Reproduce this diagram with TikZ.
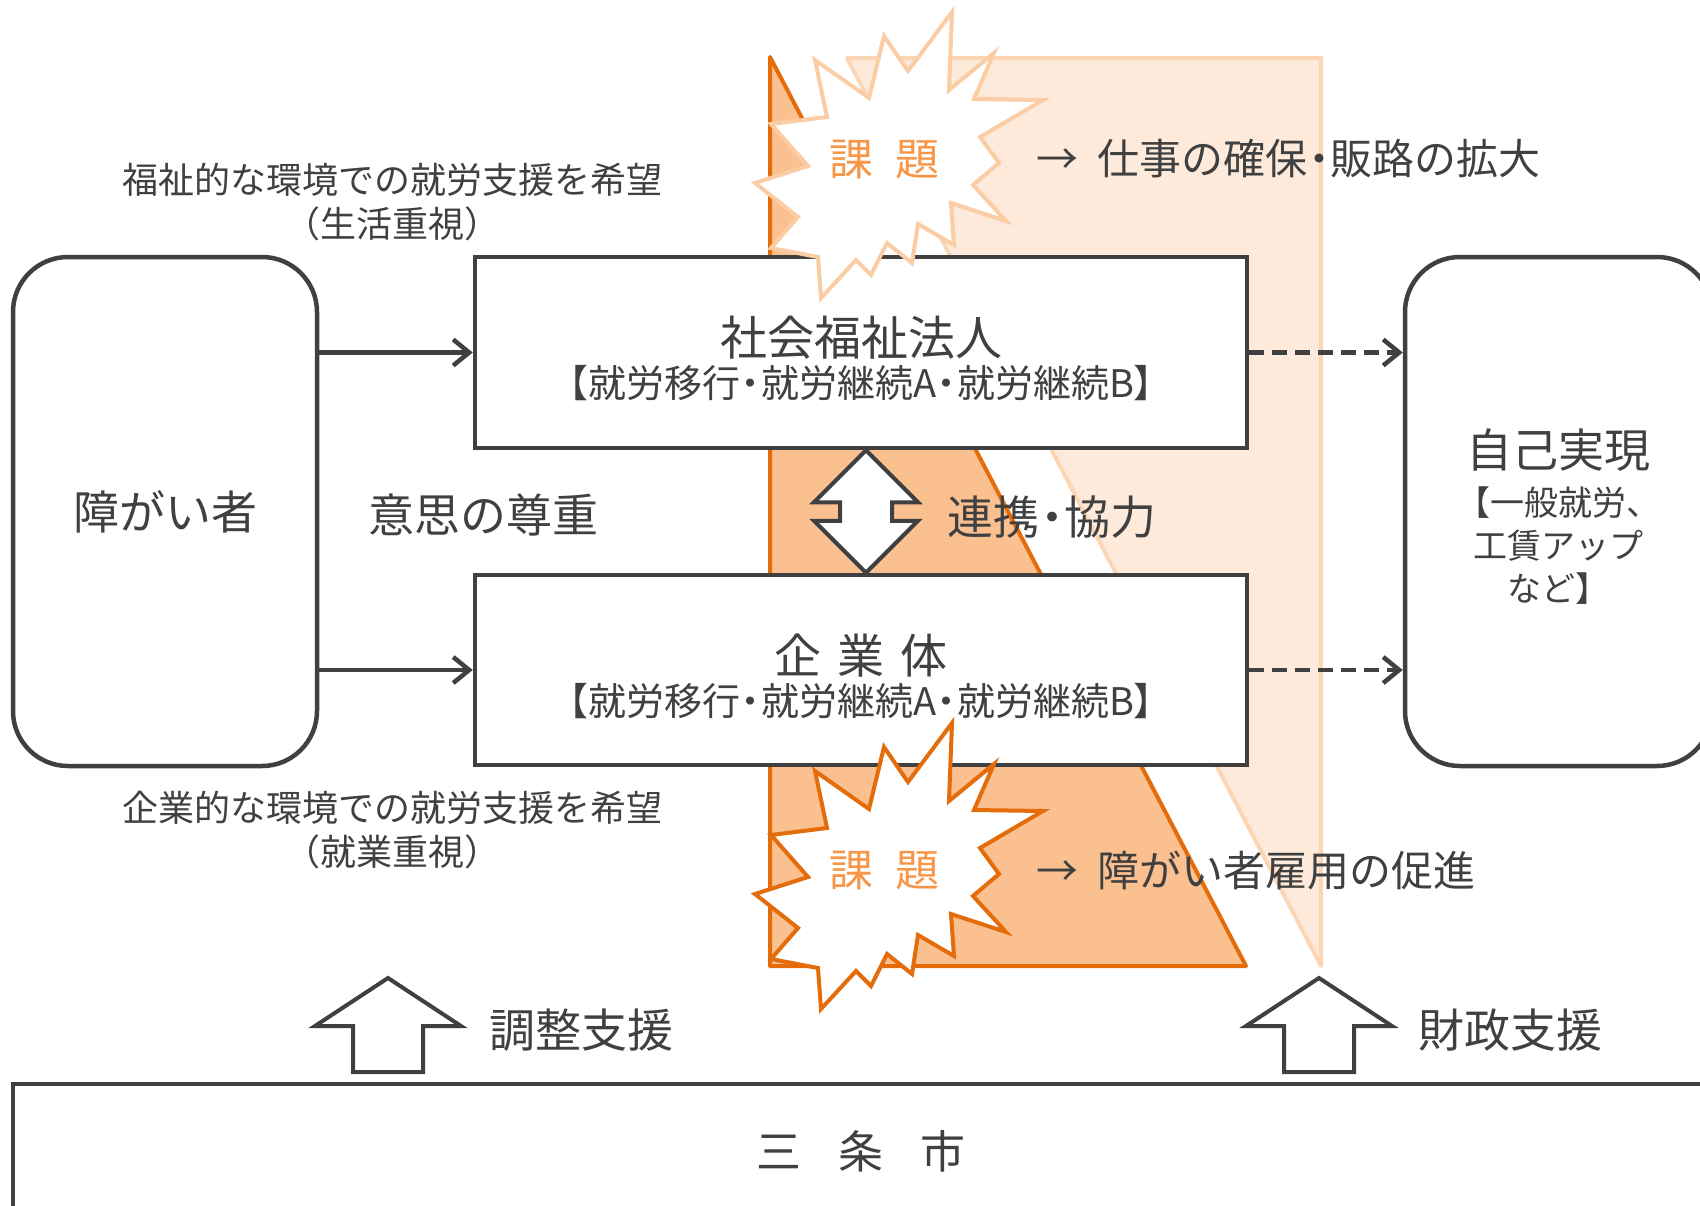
\documentclass[tikz,border=0pt]{standalone}
\usepackage{fontspec}
\setmainfont{Noto Sans CJK JP}
\usepackage{tikz}
\usetikzlibrary{arrows.meta}
\usetikzlibrary{calc}

\definecolor{txtgray}{HTML}{404040}
\definecolor{darkorange}{HTML}{E46C0A}
\definecolor{darkfill}{HTML}{FAC08F}
\definecolor{lightfill}{HTML}{FDEADA}
\definecolor{lightline}{HTML}{FCD5B4}
\definecolor{lightstar}{HTML}{FBCDA5}
\definecolor{kadaiorange}{HTML}{F79646}

\newcommand{\nakadot}{\makebox[0.55em]{・}}
\newcommand{\lbrk}{\makebox[0.55em][r]{【}}
\newcommand{\rbrk}{\makebox[0.55em][l]{】}}

\begin{document}
\begin{tikzpicture}[x=1pt, y=-1pt,
  box/.style={draw=txtgray, line width=4.5pt, fill=white, inner sep=0pt},
  roundbox/.style={box, rounded corners=55pt},
  lbl/.style={text=txtgray, align=center, inner sep=0pt},
  kadai/.style={text=kadaiorange, inner sep=0pt, font=\fontsize{44}{44}\selectfont},
  tri/.style={line width=4pt, line join=round},
  burst/.style={fill=white, line width=4pt, line join=miter},
  link/.style={draw=txtgray, line width=4.5pt, -{Straight Barb[length=16pt,width=26pt]}},
  dashline/.style={dash pattern=on 15pt off 8pt},
  blockarrow/.style={draw=txtgray, line width=4pt, fill=white, line join=miter}]

\useasboundingbox (0,0) rectangle (1700,1205);

%background triangles
 \draw[tri, fill=lightfill, draw=lightline] (847,58) -- (1321,58) -- (1321,966) -- cycle;
 \draw[tri, fill=darkfill, draw=darkorange] (770,57) -- (1246,966) -- (770,966) -- cycle;

%boxes
 \node[roundbox, minimum width=304pt, minimum height=509pt, text=txtgray, font=\fontsize{46}{46}\selectfont] (shogai) at (165,511.5) {障がい者};
 \node[roundbox, minimum width=307pt, minimum height=509pt] (jiko) at (1558.5,511.5) {};
 \node[box, minimum width=772pt, minimum height=191pt] (shakai) at (861,352.5) {};
 \node[box, minimum width=772pt, minimum height=190pt] (kigyo) at (861,670) {};
 \node[box, minimum width=1696pt, minimum height=134pt, text=txtgray, font=\fontsize{45}{45}\selectfont] (sanjo) at (861,1151) {三\hspace{37pt}条\hspace{37pt}市};

%texts in boxes
    \foreach \b/\t/\name in {shakai/社会福祉法人/shakaitxt, kigyo/企\hspace{0.35em}業\hspace{0.35em}体/kigyotxt}{
         \node[lbl] (\name) at ($(\b.center)+(0,6)$) {{\fontsize{47}{47}\selectfont \t}\\[5pt] \fontsize{38}{41}\selectfont \lbrk 就労移行\nakadot 就労継続A\nakadot 就労継続B\rbrk};
    }
 \node[lbl, font=\fontsize{34}{43}\selectfont] (jikotxt) at ($(jiko.center)+(0,5)$) {{\fontsize{46}{46}\selectfont 自己実現}\\[5pt] 【一般就労、\\工賃アップ\\など】};

%labels
 \node[lbl, font=\fontsize{36}{44}\selectfont] (fukushi) at (392,202) {福祉的な環境での就労支援を希望\\（生活重視）};
 \node[lbl, font=\fontsize{36}{44}\selectfont] (kigyoteki) at (392,830) {企業的な環境での就労支援を希望\\（就業重視）};
 \node[lbl, font=\fontsize{46}{46}\selectfont] (ishi) at (483,515) {意思の尊重};
 \node[lbl, font=\fontsize{46}{46}\selectfont] (renkei) at (1052,517) {連携\nakadot 協力};
 \node[lbl, font=\fontsize{46}{46}\selectfont] (chosei) at (581,1030) {調整支援};
 \node[lbl, font=\fontsize{46}{46}\selectfont] (zaisei) at (1510,1030) {財政支援};

%connectors
    \foreach \b in {shakai, kigyo}{
         \draw[link] (shogai.east |- \b.west) -- (\b.west);
         \draw[link, dashline] (\b.east) -- (jiko.west |- \b.east);
    }

 \coordinate (rtop) at ($(shakai.south)+(5,0)$);
 \coordinate (rbot) at ($(kigyo.north)+(5,0)$);
 \draw[blockarrow] (rtop) -- ++(52,52) -- ++(-26,0) -- ($(rbot)+(26,-52)$) -- ++(26,0) -- (rbot)
      -- ++(-52,-52) -- ++(26,0) -- ($(rtop)+(-26,52)$) -- ++(-26,0) -- cycle;

%support arrows
    \foreach \cx in {388,1319}{
         \draw[blockarrow] (\cx,978) -- (\cx+73,1026) -- (\cx+35,1026) -- (\cx+35,1072) -- (\cx-35,1072) -- (\cx-35,1026) -- (\cx-73,1026) -- cycle;
    }

%stars
    \foreach \dy/\col/\name in {0/lightstar/kadai1, 711/darkorange/kadai2}{
         \draw[burst, draw=\col, shift={(0,\dy)}] (952,12) -- (949,90) -- (994,53) -- (974,99) -- (1043,100) -- (980,137)
              -- (999,163) -- (973,185) -- (1006,221) -- (951,203) -- (954,245) -- (918,224) -- (912,263) -- (887,243)
              -- (871,275) -- (856,260) -- (821,298) -- (818,257) -- (771,248) -- (798,217) -- (755,183) -- (808,166)
              -- (771,124) -- (827,117) -- (815,60) -- (869,98) -- (884,36) -- (908,71) -- cycle;
         \node[kadai] (\name) at (884,160+\dy) {課\hspace{0.5em}題};
    }

 \node[lbl, anchor=west, font=\fontsize{42}{42}\selectfont] (kadaitxt1) at (1036,159) {→\hspace{10pt} 仕事の確保\nakadot 販路の拡大};
 \node[lbl, anchor=west, font=\fontsize{42}{42}\selectfont] (kadaitxt2) at (1036,871) {→\hspace{10pt} 障がい者雇用の促進};

\end{tikzpicture}
\end{document}
